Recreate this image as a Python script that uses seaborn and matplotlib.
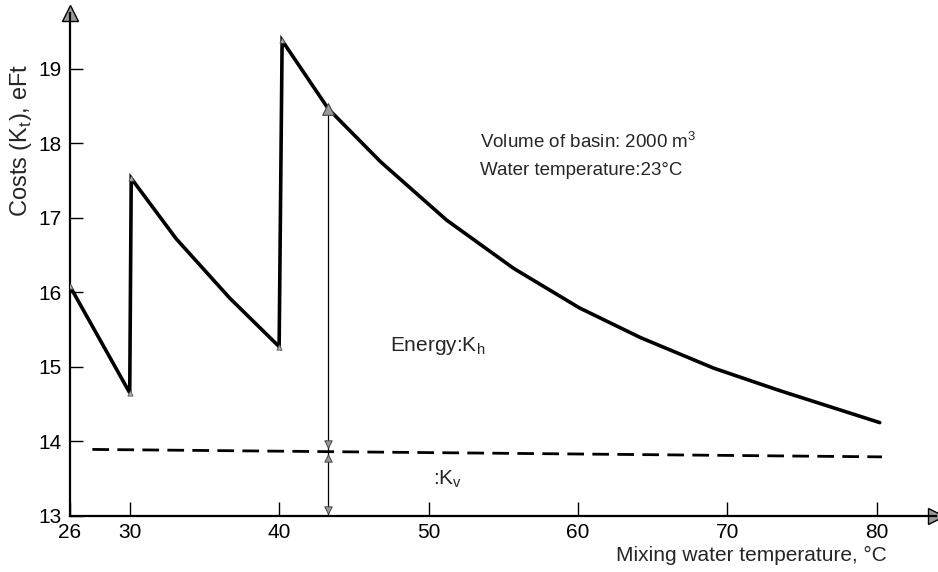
import matplotlib
matplotlib.use("Agg")
import matplotlib.pyplot as plt
import seaborn as sns

# ---------------- data ----------------
# total cost curve (saw-tooth with jumps at 30 and 40 °C)
cost_x = [26.0, 30.0, 30.1, 33.1, 36.7, 40.0, 40.2, 43.3, 46.8, 51.2, 55.7, 60.1, 64.2, 69.1, 73.5, 80.2]
cost_y = [16.08, 14.65, 17.53, 16.72, 15.92, 15.27, 19.38, 18.46, 17.75, 16.97, 16.32, 15.79, 15.39, 14.98, 14.68, 14.25]
vertex_idx = [0, 1, 2, 5, 6]          # small marks at the corners of the curve

# K_v (dashed) line
kv_x = [27.5, 80.35]
kv_y = [13.89, 13.79]

# dimension arrow for Energy K_h
dim_x = 43.3
dim_top = 18.46
dim_mid = 13.86
axis_min = 13.0

x_ticks = [26, 30, 40, 50, 60, 70, 80]
y_ticks = [13, 14, 15, 16, 17, 18, 19]

note_lines = ["Volume of basin: 2000 m$^\\mathregular{3}$", "Water temperature:23°C"]
energy_label = "Energy:K$_\\mathregular{h}$"
kv_label = ":K$_\\mathregular{v}$"
x_label = "Mixing water temperature, °C"
y_label = "Costs (K$_\\mathregular{t}$), eFt"

# ---------------- style ----------------
sns.set_theme(style="white")
plt.rcParams["font.family"] = ["Liberation Sans", "DejaVu Sans"]
plt.rcParams["mathtext.fontset"] = "custom"
plt.rcParams["mathtext.rm"] = "Liberation Sans"

fig = plt.figure(figsize=(9.38, 5.72), dpi=100)
ax = fig.add_axes([0.0746, 0.0984, 0.9238, 0.879])

sns.lineplot(x=cost_x, y=cost_y, sort=False, estimator=None, color="black",
             lw=2.6, ax=ax, solid_joinstyle="miter")
sns.lineplot(x=kv_x, y=kv_y, sort=False, estimator=None, color="black",
             lw=2.0, ax=ax, dashes=False, linestyle=(0, (6.0, 3.0)))
sns.lineplot(x=[dim_x, dim_x], y=[axis_min, dim_top], sort=False, estimator=None,
             color="black", lw=0.9, ax=ax)

# small corner marks
ax.scatter([cost_x[i] for i in vertex_idx], [cost_y[i] for i in vertex_idx],
           marker="^", s=14, facecolor="#b0b0b0", edgecolor="#555555", lw=0.6, zorder=5)
# dimension arrow heads
ax.scatter([dim_x], [dim_top], marker="^", s=70, facecolor="#9a9a9a",
           edgecolor="#444444", lw=0.8, zorder=6)
ax.scatter([dim_x], [dim_mid + 0.1], marker="v", s=28, facecolor="#9a9a9a",
           edgecolor="#444444", lw=0.7, zorder=6)
ax.scatter([dim_x], [dim_mid - 0.09], marker="^", s=28, facecolor="#9a9a9a",
           edgecolor="#444444", lw=0.7, zorder=6)
ax.scatter([dim_x], [axis_min + 0.08], marker="v", s=28, facecolor="#9a9a9a",
           edgecolor="#444444", lw=0.7, zorder=6, clip_on=False)

ax.set_xlim(26, 84)
ax.set_ylim(13, 19.75)
ax.set_xticks(x_ticks)
ax.set_yticks(y_ticks)
ax.tick_params(axis="x", direction="in", length=10, width=1.0, pad=5,
               labelsize=15, colors="black", bottom=True)
ax.tick_params(axis="y", direction="in", length=9, width=1.0, pad=6,
               labelsize=15, colors="black", left=True)

for s in ["top", "right"]:
    ax.spines[s].set_visible(False)
for s in ["left", "bottom"]:
    ax.spines[s].set_color("black")
    ax.spines[s].set_linewidth(1.6)

# axis arrows
ax.plot(0, 1, marker="^", ms=11, mfc="#9a9a9a", mec="black", mew=1.0,
        transform=ax.transAxes, clip_on=False)
ax.plot(1, 0, marker=">", ms=11, mfc="#9a9a9a", mec="black", mew=1.0,
        transform=ax.transAxes, clip_on=False)

# texts
ax.text(53.44, 17.93, note_lines[0], fontsize=13.5, ha="left", va="baseline")
ax.text(53.44, 17.58, note_lines[1], fontsize=13.5, ha="left", va="baseline")
ax.text(47.42, 15.21, energy_label, fontsize=15, ha="left", va="baseline")
ax.text(50.3, 13.42, kv_label, fontsize=15, ha="left", va="baseline")

fig.text(887 / 938, 1 - 561 / 572, x_label, fontsize=15, ha="right", va="baseline")
fig.text(21 / 938, 1 - 140 / 572, y_label, fontsize=17, ha="center", va="center",
         rotation=90)

fig.savefig("out.png", dpi=100)
